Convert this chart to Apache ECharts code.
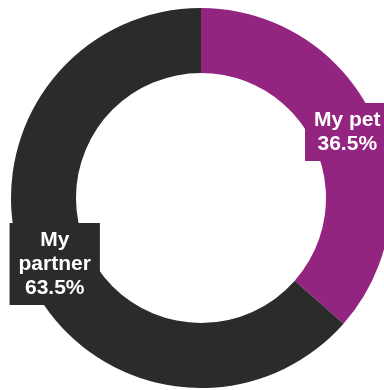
<!DOCTYPE html>
<html>
<head>
<meta charset="utf-8">
<script src="https://cdn.jsdelivr.net/npm/echarts@6/dist/echarts.min.js"></script>
<style>
html,body{margin:0;padding:0;background:#fff;}
#c{width:384px;height:390px;}
</style>
</head>
<body>
<div id="c"></div>
<script>
const categories = ["My pet", "My partner"];
const labelTexts = ["My pet", "My\npartner"];
const values = [36.5, 63.5];
const colors = ["#93247f", "#2b2b2b"];

const chart = echarts.init(document.getElementById('c'), null, {renderer: 'canvas'});
chart.setOption({
  animation: false,
  series: [{
    type: 'pie',
    center: [201, 198],
    radius: [125, 190],
    startAngle: 90,
    clockwise: true,
    silent: true,
    data: categories.map((c, i) => ({
      name: c,
      value: values[i],
      itemStyle: {color: colors[i]},
      label: {
        backgroundColor: colors[i],
        formatter: labelTexts[i] + '\n' + values[i].toFixed(1) + '%'
      }
    })),
    label: {
      show: true,
      position: 'inside',
      color: '#ffffff',
      fontFamily: 'Liberation Sans, Arial, sans-serif',
      fontWeight: 'bold',
      fontSize: 21,
      lineHeight: 24,
      align: 'center',
      padding: [5, 9]
    },
    labelLine: {show: false},
    itemStyle: {borderWidth: 0}
  }]
});
</script>
</body>
</html>
